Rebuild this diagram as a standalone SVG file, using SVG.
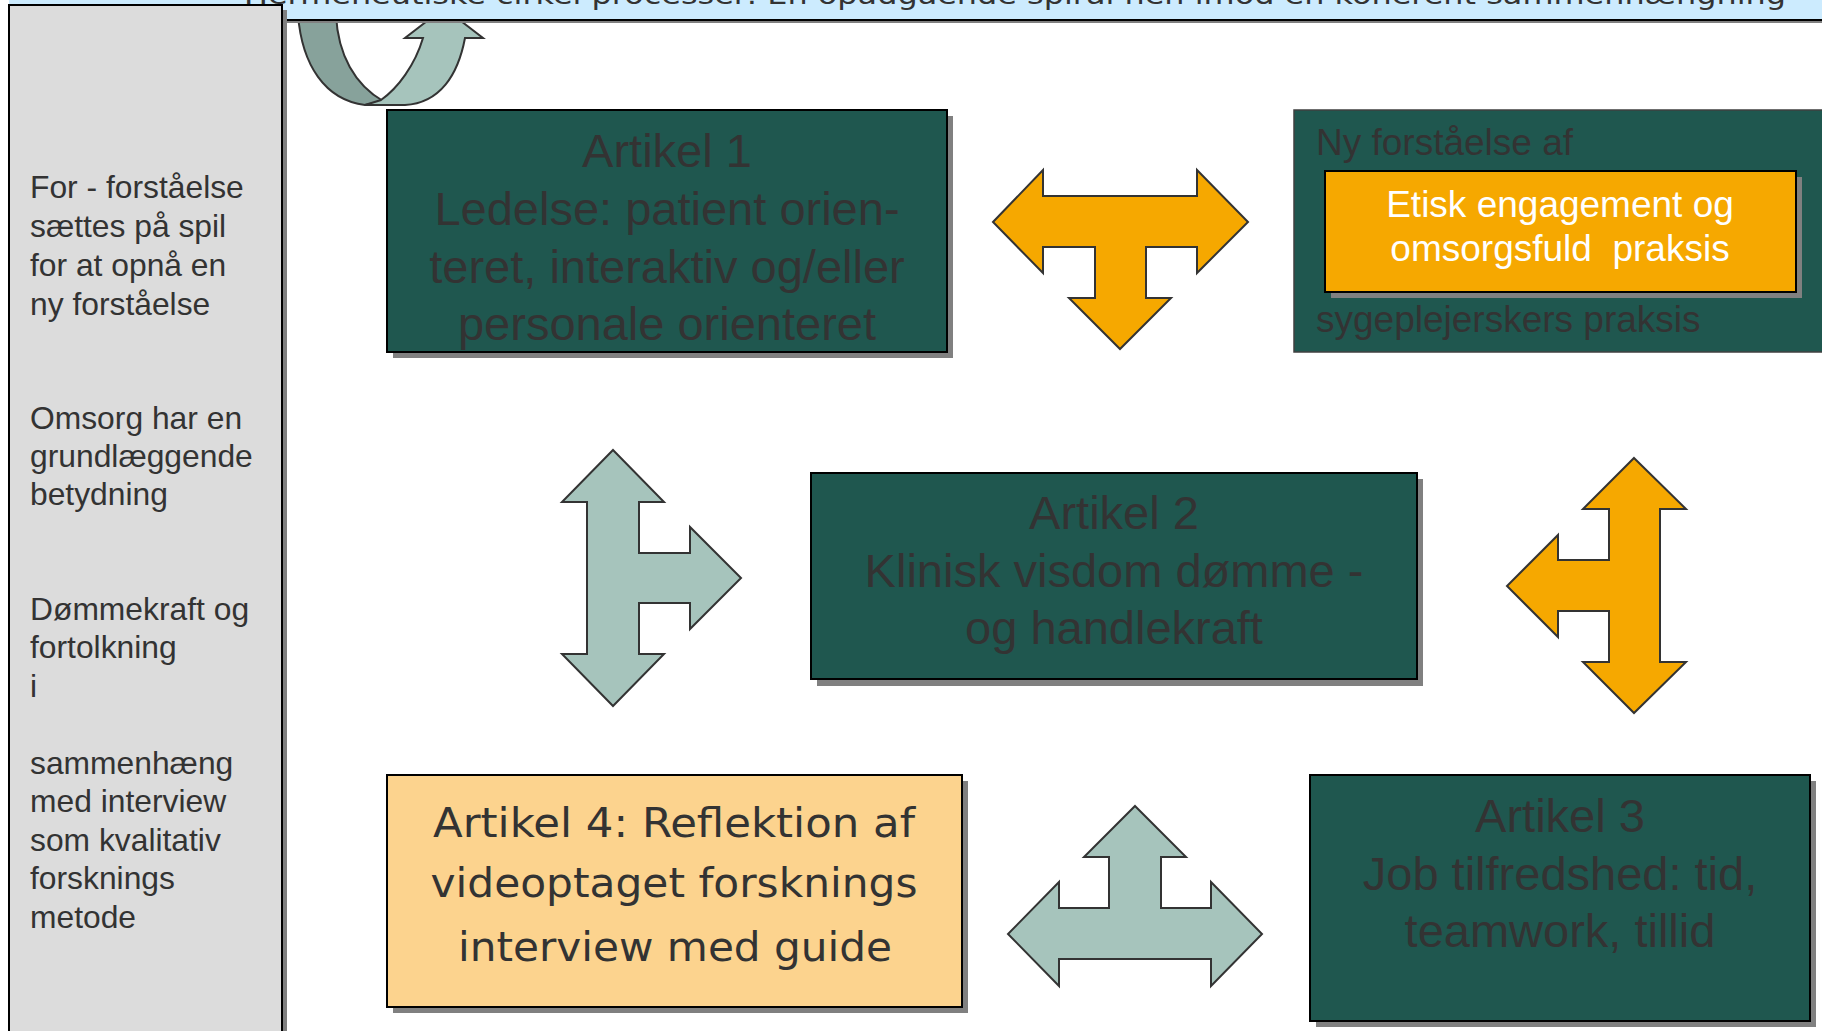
<svg xmlns="http://www.w3.org/2000/svg" width="1822" height="1031" viewBox="0 0 1822 1031">
<style>
.box{stroke:#000;stroke-width:2}
.shadow{fill:#808080}
.green{fill:#1F574F}
.t47{font-family:"Liberation Sans",Arial,sans-serif;font-size:47px;fill:#333;text-anchor:middle}
.t37{font-family:"Liberation Sans",Arial,sans-serif;font-size:37px;fill:#333}
.tw{font-family:"Liberation Sans",Arial,sans-serif;font-size:37px;fill:#fff;text-anchor:middle}
.side{font-family:"Liberation Sans",Arial,sans-serif;font-size:31.8px;fill:#333}
.t4{font-family:"DejaVu Sans",Verdana,sans-serif;font-size:40px;fill:#333;text-anchor:middle}
.orange{fill:#F6A800;stroke:#333;stroke-width:2;stroke-linejoin:miter}
.teal{fill:#A6C4BC;stroke:#333;stroke-width:2;stroke-linejoin:miter}
</style>
<rect x="0" y="0" width="1822" height="1031" fill="#fff"/>

<g id="connectors">
  <g id="curved-arrow">
    <path d="M298,15 C302,65 325,100 365,105 L383,101 C355,85 338,55 336,15 Z" fill="#87A29B" stroke="#333" stroke-width="2"/>
    <path d="M381,100 C398,88 415,65 423,38 L405,38 L444,8 L483,38 L465,38 C458,75 440,103 405,105 L365,105 Z" fill="#A6C4BC" stroke="#333" stroke-width="2"/>
  </g>
  <polygon id="arrow-top" class="orange" points="993,222 1043,170 1043,196 1197,196 1197,170 1248,222 1197,273 1197,247 1146,247 1146,298 1171,298 1120,349 1069,298 1095,298 1095,247 1043,247 1043,273"/>
  <polygon id="arrow-left" class="teal" points="613,450 664,502 639,502 639,553 690,553 690,527 741,578 690,629 690,603 639,603 639,654 664,654 613,706 562,654 587,654 587,502 562,502"/>
  <polygon id="arrow-right" class="orange" points="1634,458 1686,509 1660,509 1660,662 1686,662 1634,713 1583,662 1609,662 1609,611 1558,611 1558,637 1507,586 1558,535 1558,560 1609,560 1609,509 1583,509"/>
  <polygon id="arrow-bottom" class="teal" points="1135,806 1186,857 1161,857 1161,908 1211,908 1211,882 1262,934 1211,986 1211,959 1059,959 1059,986 1008,934 1059,882 1059,908 1109,908 1109,857 1084,857"/>
</g>

<g id="title">
  <rect x="9" y="-10" width="1820" height="33" class="shadow"/>
  <rect x="9" y="-10" width="1820" height="29" fill="#CCEBFE"/>
  <line x1="9" y1="20" x2="1822" y2="20" stroke="#000" stroke-width="2"/>
  <text x="244" y="4" font-family="'DejaVu Sans',sans-serif" font-size="26" fill="#333" textLength="1542" lengthAdjust="spacingAndGlyphs">Hermeneutiske cirkel processer: En opadgående spiral hen imod en koherent sammenhængning</text>
</g>

<g id="side-panel">
  <rect x="14" y="10" width="273" height="1030" class="shadow"/>
  <rect x="9" y="5" width="273" height="1030" fill="#DCDCDC" stroke="#000" stroke-width="2"/>
  <text class="side" x="30" y="198">For - forståelse</text>
  <text class="side" x="30" y="237">sættes på spil</text>
  <text class="side" x="30" y="276">for at opnå en</text>
  <text class="side" x="30" y="315">ny forståelse</text>
  <text class="side" x="30" y="429">Omsorg har en</text>
  <text class="side" x="30" y="467">grundlæggende</text>
  <text class="side" x="30" y="505">betydning</text>
  <text class="side" x="30" y="620">Dømmekraft og</text>
  <text class="side" x="30" y="658">fortolkning</text>
  <text class="side" x="30" y="697">i</text>
  <text class="side" x="30" y="774">sammenhæng</text>
  <text class="side" x="30" y="812">med interview</text>
  <text class="side" x="30" y="851">som kvalitativ</text>
  <text class="side" x="30" y="889">forsknings</text>
  <text class="side" x="30" y="928">metode</text>
</g>

<g id="artikel1">
  <rect x="393" y="116" width="560" height="242" class="shadow"/>
  <rect x="387" y="110" width="560" height="242" class="box green"/>
  <text class="t47" x="667" y="167">Artikel 1</text>
  <text class="t47" x="667" y="225">Ledelse: patient orien-</text>
  <text class="t47" x="667" y="283">teret, interaktiv og/eller</text>
  <text class="t47" x="667" y="340">personale orienteret</text>
</g>

<g id="ny-forstaaelse">
  <rect x="1294" y="110" width="540" height="242" fill="#1F574F" stroke="#404040" stroke-width="1.5"/>
  <text class="t37" x="1316" y="155">Ny forståelse af</text>
  <text class="t37" x="1316" y="332">sygeplejerskers praksis</text>
  <g id="etisk">
    <rect x="1331" y="177" width="471" height="121" class="shadow"/>
    <rect x="1325" y="171" width="471" height="121" fill="#F6A800" class="box"/>
    <text class="tw" x="1560" y="217">Etisk engagement og</text>
    <text class="tw" x="1560" y="261" xml:space="preserve">omsorgsfuld  praksis</text>
  </g>
</g>

<g id="artikel2">
  <rect x="817" y="479" width="606" height="207" class="shadow"/>
  <rect x="811" y="473" width="606" height="206" class="box green"/>
  <text class="t47" x="1114" y="529">Artikel 2</text>
  <text class="t47" x="1114" y="587">Klinisk visdom dømme -</text>
  <text class="t47" x="1114" y="644">og handlekraft</text>
</g>

<g id="artikel4">
  <rect x="393" y="781" width="575" height="232" class="shadow"/>
  <rect x="387" y="775" width="575" height="232" fill="#FCD38E" class="box"/>
  <text class="t4" x="674" y="837" textLength="482" lengthAdjust="spacingAndGlyphs">Artikel 4: Reflektion af</text>
  <text class="t4" x="674" y="897" textLength="487" lengthAdjust="spacingAndGlyphs">videoptaget forsknings</text>
  <text class="t4" x="675" y="961" textLength="434" lengthAdjust="spacingAndGlyphs">interview med guide</text>
</g>

<g id="artikel3">
  <rect x="1316" y="781" width="500" height="246" class="shadow"/>
  <rect x="1310" y="775" width="500" height="246" class="box green"/>
  <text class="t47" x="1560" y="832">Artikel 3</text>
  <text class="t47" x="1560" y="890">Job tilfredshed: tid,</text>
  <text class="t47" x="1560" y="947">teamwork, tillid</text>
</g>
</svg>
